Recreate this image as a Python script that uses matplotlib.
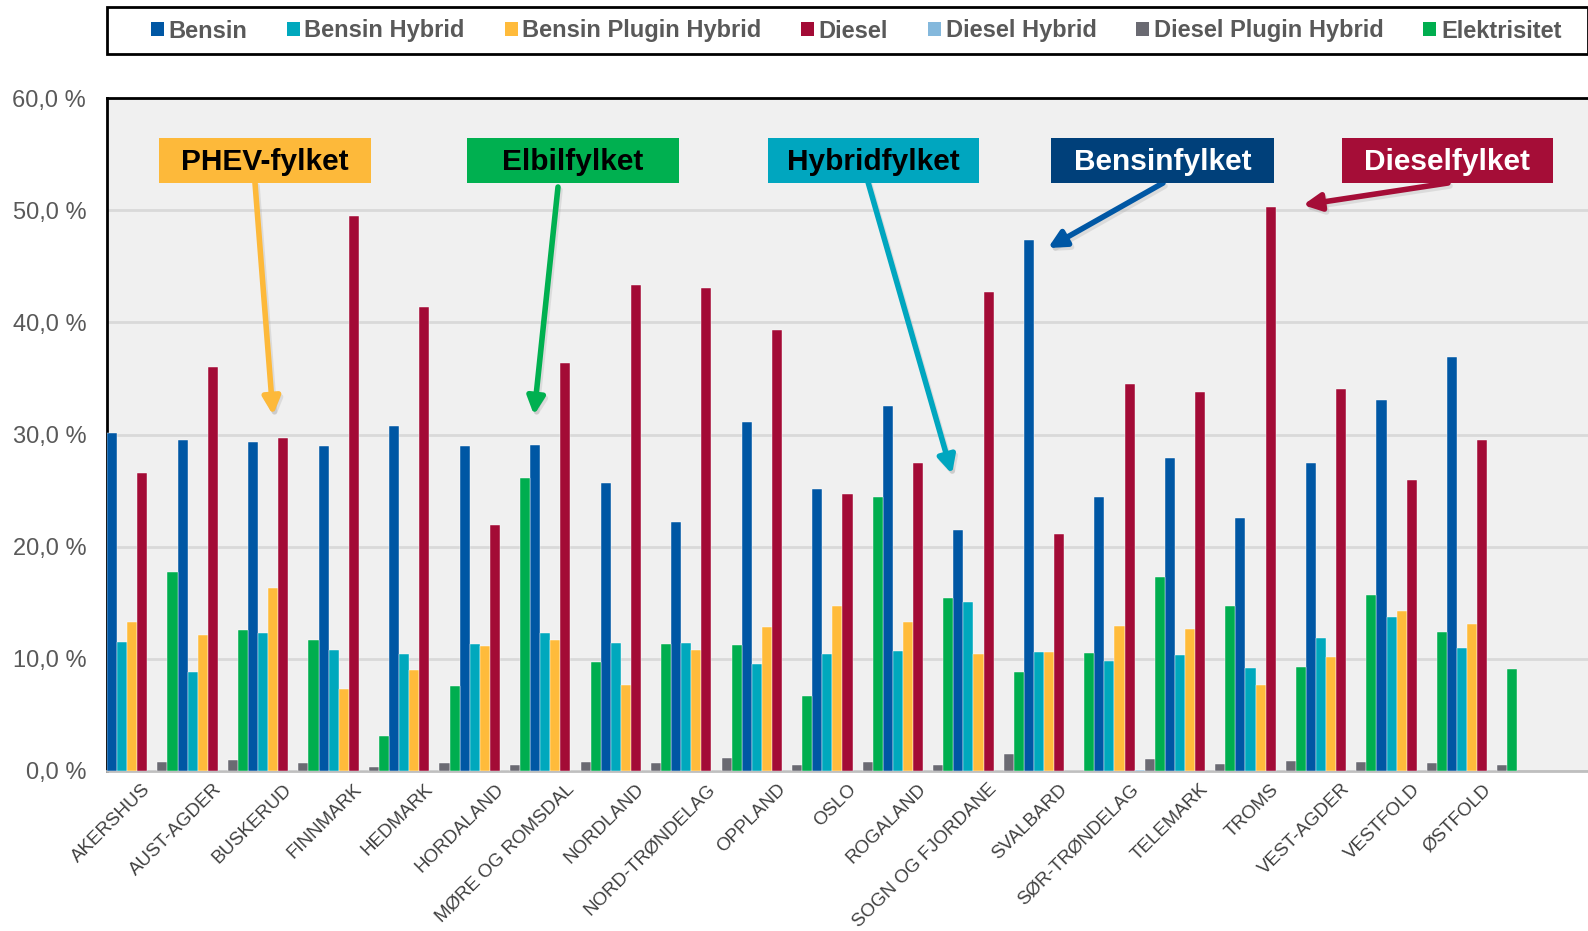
import numpy as np
import matplotlib
matplotlib.use("Agg")
import matplotlib.pyplot as plt
from matplotlib.patches import Rectangle, Patch
from matplotlib.ticker import FuncFormatter

plt.rcParams['font.family'] = ['Liberation Sans', 'DejaVu Sans']

fylker = ['AKERSHUS', 'AUST-AGDER', 'BUSKERUD', 'FINNMARK', 'HEDMARK', 'HORDALAND',
          'MØRE OG ROMSDAL', 'NORDLAND', 'NORD-TRØNDELAG', 'OPPLAND', 'OSLO', 'ROGALAND',
          'SOGN OG FJORDANE', 'SVALBARD', 'SØR-TRØNDELAG', 'TELEMARK', 'TROMS',
          'VEST-AGDER', 'VESTFOLD', 'ØSTFOLD']

bensin = [30.1, 29.5, 29.3, 29.0, 30.8, 29.0, 29.1, 25.7, 22.2, 31.1,
          25.1, 32.5, 21.5, 47.3, 24.4, 27.9, 22.6, 27.5, 33.1, 36.9]
bensin_hybrid = [11.5, 8.85, 12.3, 10.8, 10.45, 11.33, 12.3, 11.4, 11.4, 9.5,
                 10.4, 10.7, 15.1, 10.6, 9.8, 10.3, 9.2, 11.9, 13.7, 10.95]
bensin_plugin = [13.3, 12.1, 16.3, 7.3, 9.0, 11.15, 11.7, 7.7, 10.8, 12.85,
                 14.7, 13.3, 10.45, 10.6, 12.9, 12.7, 7.7, 10.15, 14.3, 13.1]
diesel = [26.6, 36.0, 29.65, 49.5, 41.4, 21.9, 36.4, 43.3, 43.1, 39.35,
          24.7, 27.5, 42.7, 21.1, 34.5, 33.8, 50.3, 34.1, 25.9, 29.55]
diesel_hybrid = [0, 0, 0, 0, 0, 0, 0, 0, 0, 0,
                 0, 0, 0, 0, 0.05, 0, 0, 0, 0, 0]
diesel_plugin = [0.8, 0.95, 0.7, 0.4, 0.7, 0.56, 0.83, 0.7, 1.2, 0.56,
                 0.8, 0.56, 1.5, 0.0, 1.1, 0.65, 0.9, 0.8, 0.7, 0.56]
elektrisitet = [17.7, 12.6, 11.7, 3.1, 7.6, 26.1, 9.7, 11.3, 11.25, 6.7,
                24.4, 15.4, 8.8, 10.5, 17.3, 14.7, 9.3, 15.7, 12.4, 9.1]

serier = ['Bensin', 'Bensin Hybrid', 'Bensin Plugin Hybrid', 'Diesel',
          'Diesel Hybrid', 'Diesel Plugin Hybrid', 'Elektrisitet']
verdier = [bensin, bensin_hybrid, bensin_plugin, diesel,
           diesel_hybrid, diesel_plugin, elektrisitet]
farger = ['#0057A4', '#00A8BD', '#FFBB3B', '#A30B36', '#84B8DC', '#6A6A72', '#00AE4F']

W, H = 1588, 931
fig = plt.figure(figsize=(W / 100, H / 100), dpi=100)
ax = fig.add_axes([107 / W, 1 - 771 / H, 1481 / W, (771 - 98) / H])
ax.set_facecolor('#F0F0F0')

# one extra empty slot at the right end, like the original
n = len(fylker)
x = np.arange(n)
bw = 1 / 7
for j, (vals, c) in enumerate(zip(verdier, farger)):
    ax.bar(x - 0.5 + (j + 0.5) * bw, vals, width=bw, color=c, zorder=3,
           edgecolor='white', linewidth=0.3)

ax.set_xlim(-0.5, n + 0.5)
ax.set_ylim(0, 60)
ax.set_yticks(np.arange(0, 61, 10))
ax.yaxis.set_major_formatter(FuncFormatter(lambda v, p: f"{v:.1f} %".replace('.', ',')))
ax.grid(axis='y', color='#D9D9D9', linewidth=2, zorder=0)
ax.tick_params(axis='y', length=0, pad=15, labelsize=17, labelcolor='#595959')
ax.set_xticks(x)
ax.set_xticklabels(fylker, rotation=45, ha='right', va='top', rotation_mode='anchor',
                   fontsize=13.5, color='#404040')
ax.tick_params(axis='x', length=0, pad=7)
for s in ['left', 'top']:
    ax.spines[s].set_color('black')
    ax.spines[s].set_linewidth(2)
ax.spines['right'].set_visible(False)
ax.spines['bottom'].set_color('#BFBFBF')
ax.spines['bottom'].set_linewidth(2)


def fpx(px, py):
    return px / W, 1 - py / H


# legend box across the top
fig.add_artist(Rectangle(fpx(107, 54), 1481 / W, 47 / H, transform=fig.transFigure,
                         facecolor='white', edgecolor='black', linewidth=2))
handles = [Patch(facecolor=c, label=s) for s, c in zip(serier, farger)]
leg = fig.legend(handles=handles, loc='center', bbox_to_anchor=fpx(856, 31), ncol=7,
                 frameon=False, fontsize=17, handlelength=0.55, handleheight=0.55,
                 handletextpad=0.2, columnspacing=1.68)
for t in leg.get_texts():
    t.set_color('#595959')
    t.set_fontweight('bold')

# annotation boxes and arrows
bokser = [
    ('PHEV-fylket', 159, 371, '#FDB93A', 'black', (255, 183), (273, 415)),
    ('Elbilfylket', 467, 679, '#00B050', 'black', (558, 187), (534, 415)),
    ('Hybridfylket', 768, 979, '#00A6BF', 'black', (868, 182), (952, 474)),
    ('Bensinfylket', 1051, 1274, '#00407A', 'white', (1163, 183), (1048, 248)),
    ('Dieselfylket', 1342, 1553, '#A50D37', 'white', (1448, 183), (1303, 205)),
]
y0, y1 = 138, 183
for tekst, x0, x1, bg, fg, start, slutt in bokser:
    fig.add_artist(Rectangle(fpx(x0, y1), (x1 - x0) / W, (y1 - y0) / H,
                             transform=fig.transFigure, facecolor=bg, edgecolor='none',
                             zorder=5))
    fig.text(*fpx((x0 + x1) / 2, (y0 + y1) / 2 + 2), tekst, ha='center', va='center',
             fontsize=21.5, fontweight='bold', color=fg, zorder=6)
    arrow_col = '#0057A4' if tekst == 'Bensinfylket' else bg
    # soft shadow
    ax.annotate('', xy=fpx(slutt[0] + 2, slutt[1] + 3),
                xytext=fpx(start[0] + 2, start[1] + 3),
                xycoords='figure fraction', textcoords='figure fraction',
                arrowprops=dict(arrowstyle='-|>', color='#A0A0A0', lw=4,
                                mutation_scale=26, alpha=0.25,
                                shrinkA=0, shrinkB=0), zorder=6)
    ax.annotate('', xy=fpx(*slutt), xytext=fpx(*start),
                xycoords='figure fraction', textcoords='figure fraction',
                arrowprops=dict(arrowstyle='-|>', color=arrow_col, lw=4,
                                mutation_scale=26, shrinkA=0, shrinkB=0), zorder=7)

fig.savefig('out.png', dpi=100)
